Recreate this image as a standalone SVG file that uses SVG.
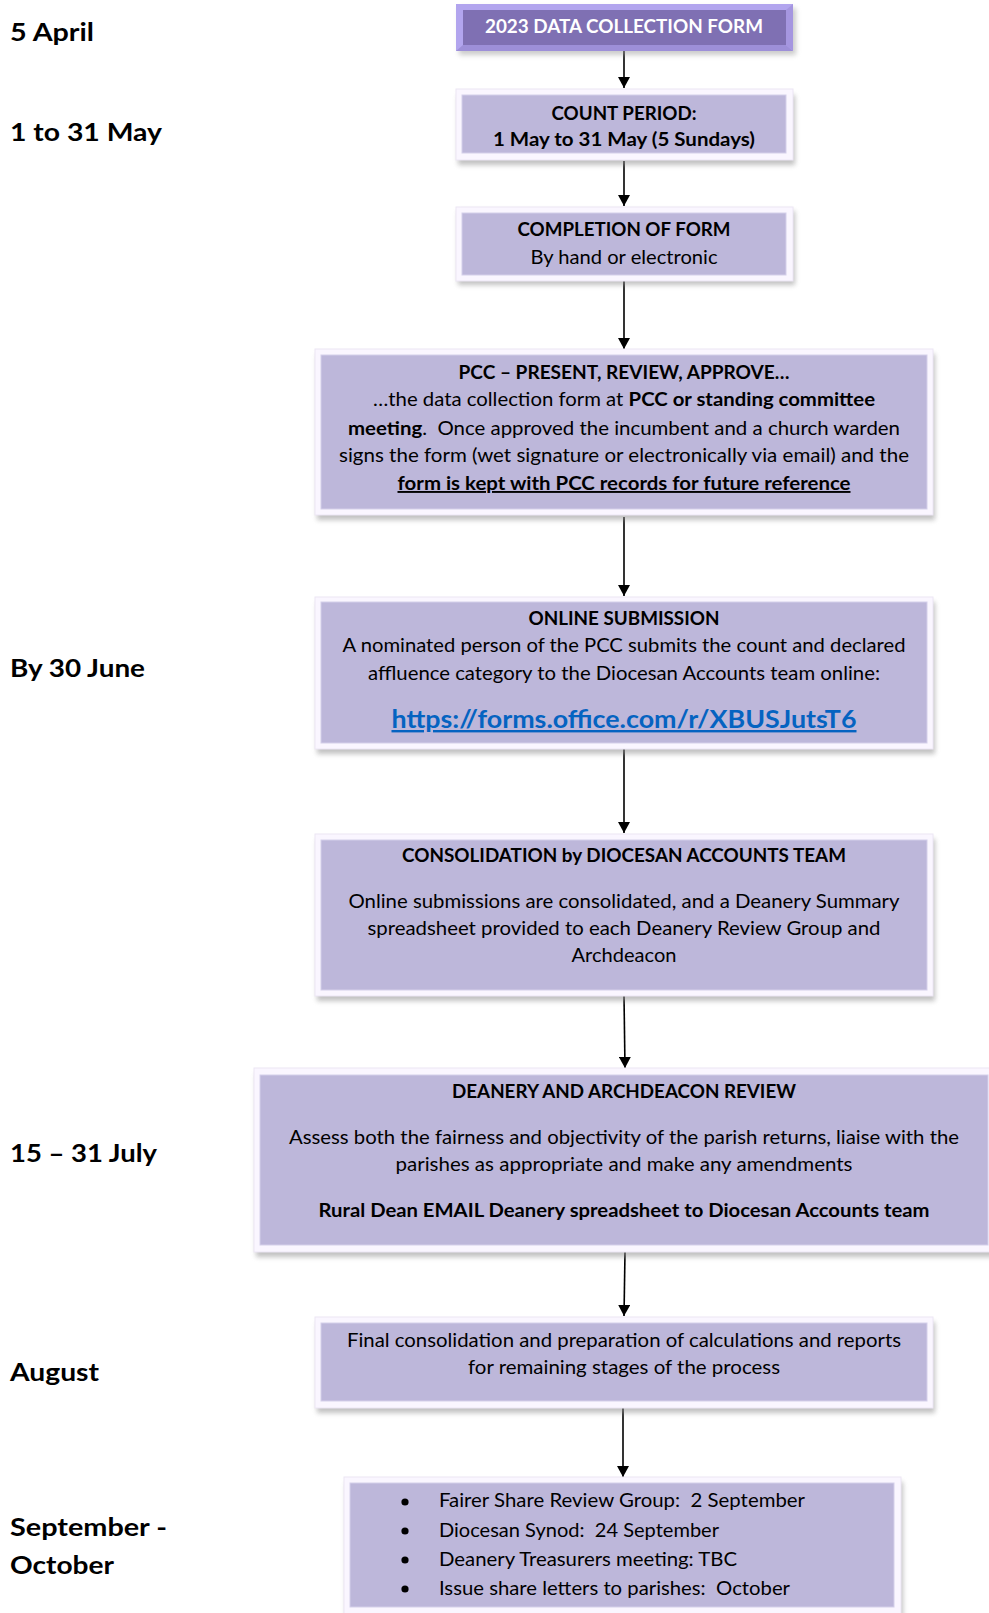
<svg xmlns="http://www.w3.org/2000/svg" width="989" height="1613" viewBox="0 0 989 1613">
<defs>
<style>
text{white-space:pre}
.lbl{font-family:Lato,"Open Sans","Liberation Sans",sans-serif;font-weight:bold;font-size:25px;fill:#000}
.t{font-family:Lato,"Open Sans","Liberation Sans",sans-serif;font-size:19px;fill:#000;text-anchor:middle}
.tl{font-family:Lato,"Open Sans","Liberation Sans",sans-serif;font-size:19px;fill:#000}
.b{font-weight:bold}
.u{text-decoration:underline}
.frame{fill:#FAF6FF;stroke:#ECE6F4;stroke-width:1}
.inner{fill:#BDB7DA;stroke:#D4CFEA;stroke-width:1}
.shadow{fill:#8E8E8E;opacity:0.55}
.conn{stroke:#000;stroke-width:1.6;fill:none;marker-end:url(#ah)}
</style>
<filter id="blur" x="-5%" y="-20%" width="110%" height="140%"><feGaussianBlur stdDeviation="2.5"/></filter>
<marker id="ah" viewBox="0 0 11 12" refX="11" refY="6" markerWidth="11" markerHeight="12" markerUnits="userSpaceOnUse" orient="auto">
<path d="M0,0 L11,6 L0,12 Z" fill="#000"/>
</marker>
</defs>
<rect width="989" height="1613" fill="#fff"/>

<g id="labels">
<text class="lbl" x="10" y="41" textLength="84" lengthAdjust="spacingAndGlyphs">5 April</text>
<text class="lbl" x="10" y="141" textLength="152" lengthAdjust="spacingAndGlyphs">1 to 31 May</text>
<text class="lbl" x="10" y="677" textLength="135" lengthAdjust="spacingAndGlyphs">By 30 June</text>
<text class="lbl" x="10" y="1162" textLength="147" lengthAdjust="spacingAndGlyphs">15 – 31 July</text>
<text class="lbl" x="10" y="1381" textLength="89" lengthAdjust="spacingAndGlyphs">August</text>
<text class="lbl" x="10" y="1536" textLength="157" lengthAdjust="spacingAndGlyphs">September -</text>
<text class="lbl" x="10" y="1574" textLength="104" lengthAdjust="spacingAndGlyphs">October</text>
</g>

<g id="connectors">
<line class="conn" x1="624" y1="51" x2="624" y2="88"/>
<line class="conn" x1="624" y1="161" x2="624" y2="206"/>
<line class="conn" x1="624" y1="281" x2="624" y2="349"/>
<line class="conn" x1="624" y1="517" x2="624" y2="596"/>
<line class="conn" x1="624" y1="749" x2="624" y2="833"/>
<line class="conn" x1="624" y1="996" x2="625" y2="1068"/>
<line class="conn" x1="625" y1="1252" x2="624" y2="1316"/>
<line class="conn" x1="623" y1="1408" x2="623" y2="1477"/>
</g>

<g id="n1">
<rect x="459" y="8" width="337" height="47" fill="#9A9A9A" opacity="0.5" filter="url(#blur)"/>
<rect x="456" y="4" width="337" height="47" fill="#B2A5EE"/>
<polygon points="456,51 463,45 786,45 793,51" fill="#9D8FD8"/>
<polygon points="793,4 786,10 786,45 793,51" fill="#A596E0"/>
<rect x="463" y="10" width="323" height="35" fill="#7F70B3"/>
<text class="t b" x="624" y="33" style="fill:#fff" textLength="278" lengthAdjust="spacingAndGlyphs">2023 DATA COLLECTION FORM</text>
</g>

<g id="n2">
<rect class="shadow" x="458" y="95" width="337" height="70" filter="url(#blur)"/>
<rect class="frame" x="456" y="89" width="337" height="71"/>
<rect class="inner" x="462" y="95" width="324" height="58"/>
<text class="t b" x="624" y="120" textLength="145" lengthAdjust="spacingAndGlyphs">COUNT PERIOD:</text>
<text class="t b" x="624" y="146" textLength="262" lengthAdjust="spacingAndGlyphs">1 May to 31 May (5 Sundays)</text>
</g>

<g id="n3">
<rect class="shadow" x="458" y="211" width="337" height="74" filter="url(#blur)"/>
<rect class="frame" x="456" y="207" width="337" height="74"/>
<rect class="inner" x="462" y="213" width="324" height="62"/>
<text class="t b" x="624" y="236" textLength="213" lengthAdjust="spacingAndGlyphs">COMPLETION OF FORM</text>
<text class="t" x="624" y="264" textLength="187" lengthAdjust="spacingAndGlyphs">By hand or electronic</text>
</g>

<g id="n4">
<rect class="shadow" x="317" y="354" width="618" height="166" filter="url(#blur)"/>
<rect class="frame" x="315" y="349" width="618" height="166"/>
<rect class="inner" x="321" y="355" width="606" height="154"/>
<text class="t b" x="624" y="379" textLength="331" lengthAdjust="spacingAndGlyphs">PCC – PRESENT, REVIEW, APPROVE…</text>
<text class="t" x="624" y="406" textLength="502" lengthAdjust="spacingAndGlyphs">…the data collection form at <tspan class="b">PCC or standing committee</tspan></text>
<text class="t" x="624" y="435" textLength="552" lengthAdjust="spacingAndGlyphs"><tspan class="b">meeting</tspan>.  Once approved the incumbent and a church warden</text>
<text class="t" x="624" y="462" textLength="570" lengthAdjust="spacingAndGlyphs">signs the form (wet signature or electronically via email) and the</text>
<text class="t b u" x="624" y="490" textLength="453" lengthAdjust="spacingAndGlyphs">form is kept with PCC records for future reference</text>
</g>

<g id="n5">
<rect class="shadow" x="317" y="602" width="618" height="152" filter="url(#blur)"/>
<rect class="frame" x="315" y="597" width="618" height="152"/>
<rect class="inner" x="321" y="602" width="606" height="141"/>
<text class="t b" x="624" y="625" textLength="191" lengthAdjust="spacingAndGlyphs">ONLINE SUBMISSION</text>
<text class="t" x="624" y="652" textLength="563" lengthAdjust="spacingAndGlyphs">A nominated person of the PCC submits the count and declared</text>
<text class="t" x="624" y="680" textLength="512" lengthAdjust="spacingAndGlyphs">affluence category to the Diocesan Accounts team online:</text>
<text class="t b u" x="624" y="728" style="font-size:24px;fill:#0563C1" textLength="465" lengthAdjust="spacingAndGlyphs">https://forms.office.com/r/XBUSJutsT6</text>
</g>

<g id="n6">
<rect class="shadow" x="317" y="839" width="618" height="162" filter="url(#blur)"/>
<rect class="frame" x="315" y="834" width="618" height="162"/>
<rect class="inner" x="321" y="840" width="606" height="150"/>
<text class="t b" x="624" y="862" textLength="444" lengthAdjust="spacingAndGlyphs">CONSOLIDATION by DIOCESAN ACCOUNTS TEAM</text>
<text class="t" x="624" y="908" textLength="551" lengthAdjust="spacingAndGlyphs">Online submissions are consolidated, and a Deanery Summary</text>
<text class="t" x="624" y="935" textLength="513" lengthAdjust="spacingAndGlyphs">spreadsheet provided to each Deanery Review Group and</text>
<text class="t" x="624" y="962" textLength="105" lengthAdjust="spacingAndGlyphs">Archdeacon</text>
</g>

<g id="n7">
<rect class="shadow" x="256" y="1073" width="740" height="184" filter="url(#blur)"/>
<rect class="frame" x="254" y="1068" width="740" height="184"/>
<rect class="inner" x="260" y="1075" width="728" height="170"/>
<text class="t b" x="624" y="1098" textLength="344" lengthAdjust="spacingAndGlyphs">DEANERY AND ARCHDEACON REVIEW</text>
<text class="t" x="624" y="1144" textLength="670" lengthAdjust="spacingAndGlyphs">Assess both the fairness and objectivity of the parish returns, liaise with the</text>
<text class="t" x="624" y="1171" textLength="457" lengthAdjust="spacingAndGlyphs">parishes as appropriate and make any amendments</text>
<text class="t b" x="624" y="1217" textLength="611" lengthAdjust="spacingAndGlyphs">Rural Dean EMAIL Deanery spreadsheet to Diocesan Accounts team</text>
</g>

<g id="n8">
<rect class="shadow" x="317" y="1322" width="618" height="91" filter="url(#blur)"/>
<rect class="frame" x="315" y="1317" width="618" height="91"/>
<rect class="inner" x="321" y="1323" width="606" height="78"/>
<text class="t" x="624" y="1347" textLength="554" lengthAdjust="spacingAndGlyphs">Final consolidation and preparation of calculations and reports</text>
<text class="t" x="624" y="1374" textLength="312" lengthAdjust="spacingAndGlyphs">for remaining stages of the process</text>
</g>

<g id="n9">
<rect class="shadow" x="346" y="1482" width="557" height="140" filter="url(#blur)"/>
<rect class="frame" x="344" y="1477" width="557" height="140"/>
<rect class="inner" x="350" y="1483" width="544" height="124"/>
<circle cx="405" cy="1502" r="3.6"/>
<circle cx="405" cy="1531" r="3.6"/>
<circle cx="405" cy="1560" r="3.6"/>
<circle cx="405" cy="1589" r="3.6"/>
<text class="tl" x="439" y="1507" textLength="366" lengthAdjust="spacingAndGlyphs">Fairer Share Review Group:  2 September</text>
<text class="tl" x="439" y="1537" textLength="280" lengthAdjust="spacingAndGlyphs">Diocesan Synod:  24 September</text>
<text class="tl" x="439" y="1566" textLength="298" lengthAdjust="spacingAndGlyphs">Deanery Treasurers meeting: TBC</text>
<text class="tl" x="439" y="1595" textLength="351" lengthAdjust="spacingAndGlyphs">Issue share letters to parishes:  October</text>
</g>
</svg>
